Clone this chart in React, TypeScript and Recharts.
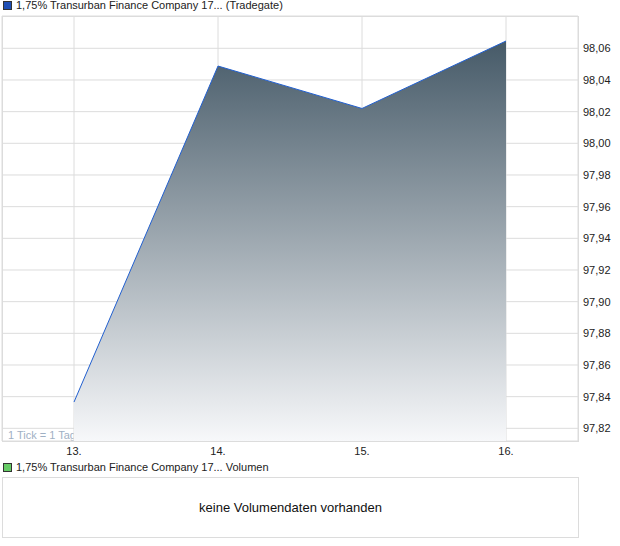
import { Area, AreaChart, CartesianGrid, XAxis, YAxis } from "recharts";

const days = [13, 14, 15, 16];
const prices = [97.8366, 98.0488, 98.022, 98.0646];
const priceTicks = [97.82, 97.84, 97.86, 97.88, 97.9, 97.92, 97.94, 97.96, 97.98, 98.0, 98.02, 98.04, 98.06];
const dayTicks = [13, 14, 15, 16];

const FONT = "Arial, 'Liberation Sans', sans-serif";

const data = days.map((day, i) => ({ day, price: prices[i] }));

const fmtPrice = (v: number) => v.toFixed(2).replace(".", ",");

function PriceTick(props: any) {
  const { x, y, payload } = props;
  return (
    <text x={x} y={y} dy={4} textAnchor="start" fontSize={11} fill="#222" fontFamily={FONT}>
      {fmtPrice(payload.value)}
    </text>
  );
}

function DayTick(props: any) {
  const { x, y, payload } = props;
  return (
    <text x={x} y={y} dy={12} textAnchor="middle" fontSize={11} fill="#222" fontFamily={FONT}>
      {`${payload.value}.`}
    </text>
  );
}

function LegendRow({ color, label, top }: { color: string; label: string; top: number }) {
  return (
    <div
      style={{
        position: "absolute",
        left: 3,
        top,
        display: "flex",
        alignItems: "center",
        fontSize: 11,
        fontFamily: FONT,
        color: "#222",
        whiteSpace: "nowrap",
      }}
    >
      <span
        style={{
          display: "inline-block",
          width: 7,
          height: 7,
          background: color,
          border: "1px solid #333",
          marginRight: 4,
        }}
      />
      {label}
    </div>
  );
}

export default function App() {
  return (
    <div style={{ position: "absolute", left: 0, top: 0, width: 620, height: 546, background: "#fff" }}>
      <LegendRow color="#1f4fb5" label="1,75% Transurban Finance Company 17... (Tradegate)" top={-1} />

      <div
        style={{
          position: "absolute",
          left: 8,
          top: 429,
          fontSize: 11,
          fontFamily: FONT,
          color: "#9fb0c4",
          whiteSpace: "nowrap",
        }}
      >
        1 Tick = 1 Tag
      </div>

      <div style={{ position: "absolute", left: 0, top: 0 }}>
        <AreaChart width={620} height={460} data={data} margin={{ top: 16, right: 0, bottom: 0, left: 2 }}>
          <defs>
            <linearGradient id="priceFill" x1="0" y1="0" x2="0" y2="1">
              <stop offset="0%" stopColor="#465a68" />
              <stop offset="100%" stopColor="#f7f8fa" />
            </linearGradient>
          </defs>
          <CartesianGrid stroke="#dcdcdc" strokeWidth={1} />
          <XAxis
            dataKey="day"
            type="number"
            domain={[12.5, 16.5]}
            ticks={dayTicks}
            height={19}
            axisLine={false}
            tickLine={false}
            tickSize={0}
            tick={<DayTick />}
          />
          <YAxis
            orientation="right"
            type="number"
            domain={[97.812, 98.0804]}
            allowDataOverflow
            ticks={priceTicks}
            width={42}
            axisLine={false}
            tickLine={false}
            tickSize={0}
            tickMargin={5}
            tick={<PriceTick />}
          />
          <Area
            type="linear"
            dataKey="price"
            stroke="#2260d0"
            strokeWidth={1}
            fill="url(#priceFill)"
            fillOpacity={1}
            isAnimationActive={false}
            dot={false}
            activeDot={false}
          />
        </AreaChart>
      </div>

      <div
        style={{
          position: "absolute",
          left: 2,
          top: 16,
          width: 575,
          height: 424,
          border: "1px solid #dcdcdc",
          pointerEvents: "none",
        }}
      />

      <LegendRow color="#66cc66" label="1,75% Transurban Finance Company 17... Volumen" top={461} />

      <div
        style={{
          position: "absolute",
          left: 2,
          top: 477,
          width: 575,
          height: 59,
          border: "1px solid #dcdcdc",
          display: "flex",
          alignItems: "center",
          justifyContent: "center",
          fontSize: 13,
          fontFamily: FONT,
          color: "#111",
        }}
      >
        keine Volumendaten vorhanden
      </div>
    </div>
  );
}
